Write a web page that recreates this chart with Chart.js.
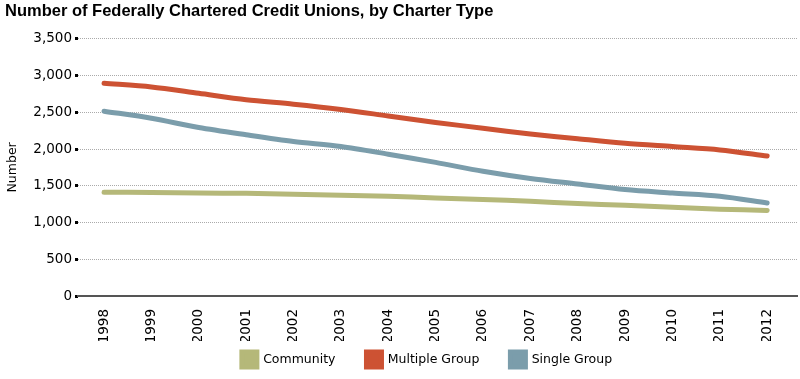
<!DOCTYPE html>
<html>
<head>
<meta charset="utf-8">
<script src="https://cdn.jsdelivr.net/npm/chart.js@4/dist/chart.umd.min.js"></script>
<style>
  body { margin: 0; background: #fff; }
  #wrap { width: 800px; height: 379px; position: relative; }
</style>
</head>
<body>
<div id="wrap"><canvas id="myChart"></canvas></div>
<script>
const years = [1998, 1999, 2000, 2001, 2002, 2003, 2004, 2005, 2006, 2007, 2008, 2009, 2010, 2011, 2012];
const community = [1412, 1410, 1401, 1398, 1385, 1370, 1357, 1334, 1314, 1289, 1259, 1234, 1207, 1182, 1163];
const multipleGroup = [2895, 2845, 2758, 2670, 2610, 2538, 2450, 2362, 2283, 2205, 2140, 2078, 2033, 1988, 1905];
const singleGroup = [2515, 2419, 2293, 2194, 2103, 2035, 1930, 1818, 1698, 1600, 1524, 1448, 1401, 1357, 1266];
const yTicks = [0, 500, 1000, 1500, 2000, 2500, 3000, 3500];

function toPoints(values) {
    return years.map((yr, i) => ({ x: yr, y: values[i] }));
}

function makeSeries(label, values, color) {
    return {
        label: label,
        data: toPoints(values),
        borderColor: color,
        backgroundColor: color,
        borderWidth: 5,
        pointRadius: 0,
        tension: 0.3,
        borderCapStyle: 'round'
    };
}

const tickFont = { family: 'DejaVu Sans', size: 13.5 };

// the legend's padding is wide between items but it should not eat so much height,
// and the whole legend sits a little right of the page centre
const LEGEND_TRIM = 20;
const tweakLegend = {
    id: 'tweakLegend',
    beforeLayout(chart) {
        const lg = chart.legend;
        if (lg && !lg._trimmed) {
            const origFit = lg.fit.bind(lg);
            lg.fit = function () {
                origFit();
                this.height -= LEGEND_TRIM;
            };
            lg._trimmed = true;
        }
    },
    afterLayout(chart) {
        const lg = chart.legend;
        lg.left += 26;
        lg.right += 26;
        lg.top -= LEGEND_TRIM;
    }
};

const ctx = document.getElementById('myChart');
const chart = new Chart(ctx, {
    type: 'line',
    data: {
        datasets: [
            makeSeries('Community', community, '#b5b879'),
            makeSeries('Multiple Group', multipleGroup, '#cd5233'),
            makeSeries('Single Group', singleGroup, '#7b9dab')
        ]
    },
    options: {
        responsive: true,
        maintainAspectRatio: false,
        animation: false,
        layout: { padding: { left: 5, right: 3, top: 0, bottom: 2 } },
        plugins: {
            title: {
                display: true,
                text: 'Number of Federally Chartered Credit Unions, by Charter Type',
                align: 'start',
                color: '#000',
                font: { family: 'Liberation Sans', size: 16.5, weight: 'bold' },
                padding: { top: 2, bottom: 17 }
            },
            legend: {
                position: 'bottom',
                labels: {
                    boxWidth: 15,
                    boxHeight: 15,
                    padding: 31,
                    color: '#000',
                    font: { family: 'DejaVu Sans', size: 12.5 }
                }
            },
            tooltip: { enabled: false }
        },
        scales: {
            x: {
                type: 'linear',
                min: 1997.45,
                max: 2012.63,
                afterBuildTicks: (scale) => {
                    scale.ticks = years.map(v => ({ value: v }));
                },
                afterFit: (scale) => { scale.height = 45; },
                ticks: {
                    autoSkip: false,
                    minRotation: 90,
                    maxRotation: 90,
                    color: '#000',
                    font: tickFont,
                    padding: 5,
                    callback: (v) => String(v)
                },
                grid: { display: false },
                border: { display: true, color: '#555', width: 2 }
            },
            y: {
                min: 0,
                max: 3500,
                afterBuildTicks: (scale) => {
                    scale.ticks = yTicks.map(v => ({ value: v }));
                },
                afterFit: (scale) => { scale.width = 73; },
                title: {
                    display: true,
                    text: 'Number',
                    color: '#000',
                    font: { family: 'DejaVu Sans', size: 12.5 },
                    padding: 0
                },
                ticks: {
                    color: '#000',
                    font: tickFont,
                    padding: 3,
                    callback: (v) => v.toLocaleString('en-US')
                },
                grid: {
                    color: (c) => c.tick && c.tick.value === 0 ? 'rgba(0,0,0,0)' : '#aaa',
                    lineWidth: 1,
                    tickLength: 3,
                    tickColor: '#000',
                    tickWidth: 3
                },
                border: { display: false, dash: [1, 1] }
            }
        }
    },
    plugins: [tweakLegend]
});
</script>
</body>
</html>
